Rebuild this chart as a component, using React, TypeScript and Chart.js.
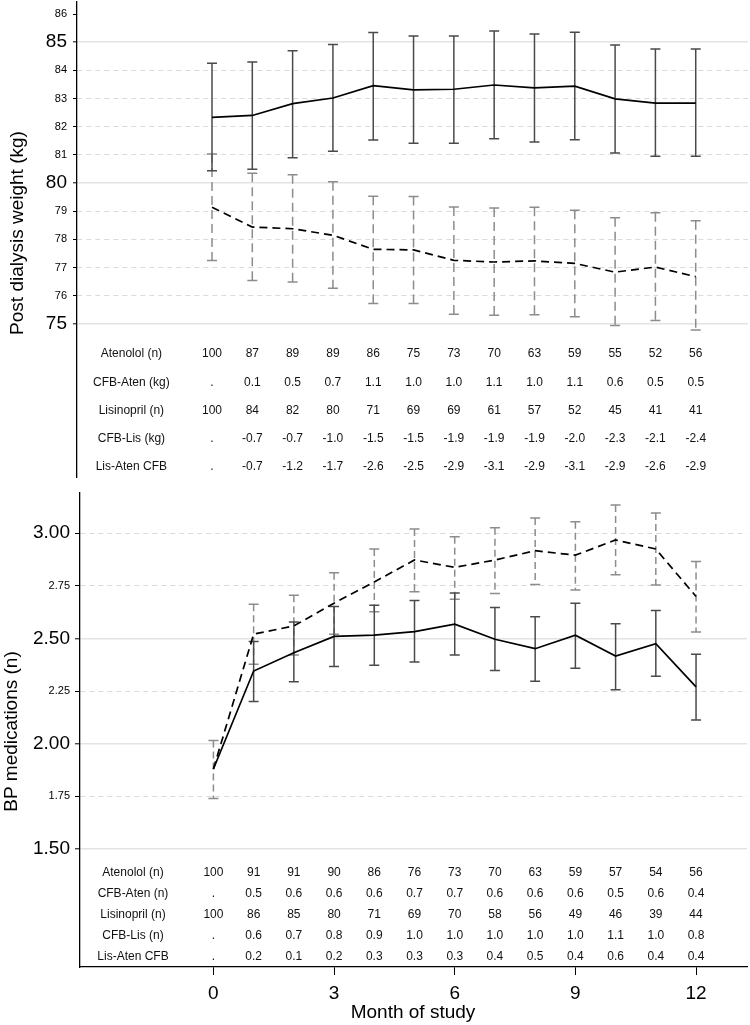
import React, { useEffect, useRef } from "react";
import { Chart, registerables } from "chart.js";

Chart.register(...registerables);

const FONT = "'Liberation Sans', Arial, Helvetica, sans-serif";

// ---------- data ----------
const months = [0, 1, 2, 3, 4, 5, 6, 7, 8, 9, 10, 11, 12];
const xTicks = [0, 3, 6, 9, 12];

// Top panel: post dialysis weight (kg)
const weightTicks = [86, 85, 84, 83, 82, 81, 80, 79, 78, 77, 76, 75];
const weightMajor = [85, 80, 75];
const weightNoGrid = [86];
const atenololWeight = [82.33, 82.4, 82.82, 83.02, 83.46, 83.31, 83.33, 83.48, 83.38, 83.44, 82.99, 82.84, 82.84];
const atenololWeightHi = [84.25, 84.3, 84.7, 84.92, 85.34, 85.22, 85.22, 85.4, 85.29, 85.35, 84.9, 84.76, 84.76];
const atenololWeightLo = [80.44, 80.49, 80.9, 81.13, 81.53, 81.41, 81.41, 81.57, 81.46, 81.54, 81.07, 80.95, 80.95];
const lisinoprilWeight = [79.14, 78.44, 78.38, 78.15, 77.65, 77.63, 77.26, 77.2, 77.24, 77.15, 76.84, 77.02, 76.68];
const lisinoprilWeightHi = [81.03, 80.35, 80.3, 80.05, 79.53, 79.52, 79.15, 79.12, 79.14, 79.04, 78.77, 78.95, 78.66];
const lisinoprilWeightLo = [77.25, 76.54, 76.49, 76.27, 75.73, 75.73, 75.35, 75.31, 75.33, 75.26, 74.95, 75.12, 74.79];

const weightTableLabels = ["Atenolol (n)", "CFB-Aten (kg)", "Lisinopril (n)", "CFB-Lis (kg)", "Lis-Aten CFB"];
const weightAtenN = ["100", "87", "89", "89", "86", "75", "73", "70", "63", "59", "55", "52", "56"];
const weightCfbAten = [".", "0.1", "0.5", "0.7", "1.1", "1.0", "1.0", "1.1", "1.0", "1.1", "0.6", "0.5", "0.5"];
const weightLisN = ["100", "84", "82", "80", "71", "69", "69", "61", "57", "52", "45", "41", "41"];
const weightCfbLis = [".", "-0.7", "-0.7", "-1.0", "-1.5", "-1.5", "-1.9", "-1.9", "-1.9", "-2.0", "-2.3", "-2.1", "-2.4"];
const weightLisAten = [".", "-0.7", "-1.2", "-1.7", "-2.6", "-2.5", "-2.9", "-3.1", "-2.9", "-3.1", "-2.9", "-2.6", "-2.9"];

// Bottom panel: BP medications (n)
const medsTicks = [3.0, 2.75, 2.5, 2.25, 2.0, 1.75, 1.5];
const medsMajor = [3.0, 2.5, 2.0, 1.5];
const medsSolidGrid = [2.5, 2.0, 1.5];
const atenololMeds = [1.88, 2.345, 2.432, 2.509, 2.515, 2.532, 2.567, 2.496, 2.451, 2.515, 2.416, 2.475, 2.27];
const atenololMedsHi = [null, 2.485, 2.578, 2.651, 2.657, 2.68, 2.715, 2.647, 2.602, 2.667, 2.569, 2.632, 2.424];
const atenololMedsLo = [null, 2.2, 2.294, 2.366, 2.372, 2.388, 2.421, 2.348, 2.297, 2.358, 2.256, 2.32, 2.112];
const lisinoprilMeds = [1.88, 2.52, 2.559, 2.667, 2.768, 2.872, 2.837, 2.872, 2.916, 2.895, 2.967, 2.924, 2.699];
const lisinoprilMedsHi = [2.015, 2.662, 2.705, 2.811, 2.924, 3.019, 2.982, 3.025, 3.071, 3.054, 3.133, 3.095, 2.865];
const lisinoprilMedsLo = [1.74, 2.377, 2.421, 2.52, 2.626, 2.721, 2.686, 2.713, 2.756, 2.73, 2.802, 2.753, 2.53];

const medsTableLabels = ["Atenolol (n)", "CFB-Aten (n)", "Lisinopril (n)", "CFB-Lis (n)", "Lis-Aten CFB"];
const medsAtenN = ["100", "91", "91", "90", "86", "76", "73", "70", "63", "59", "57", "54", "56"];
const medsCfbAten = [".", "0.5", "0.6", "0.6", "0.6", "0.7", "0.7", "0.6", "0.6", "0.6", "0.5", "0.6", "0.4"];
const medsLisN = ["100", "86", "85", "80", "71", "69", "70", "58", "56", "49", "46", "39", "44"];
const medsCfbLis = [".", "0.6", "0.7", "0.8", "0.9", "1.0", "1.0", "1.0", "1.0", "1.0", "1.1", "1.0", "0.8"];
const medsLisAten = [".", "0.2", "0.1", "0.2", "0.3", "0.3", "0.3", "0.4", "0.5", "0.4", "0.6", "0.4", "0.4"];

// ---------- layout constants ----------
const TOP_H = 480;
const BOT_H = 545;
const LABEL_COL = -2; // month coordinate of table row labels
const weightRowY = [74, 73, 72, 71, 70];
const medsRowY = [1.39, 1.29, 1.19, 1.09, 0.99];

const near = (a: number, list: number[]) => list.some((v) => Math.abs(v - a) < 1e-6);

const zeroPad = (s: any) => {
  s.paddingTop = 0;
  s.paddingBottom = 0;
  s.paddingLeft = 0;
  s.paddingRight = 0;
};

type ErrSeries = { hi: (number | null)[]; lo: (number | null)[]; color: string; dash: number[]; width: number };

function errorBarPlugin(id: string, series: ErrSeries[]) {
  return {
    id,
    beforeDatasetsDraw(chart: any) {
      const xs = chart.scales.x;
      const ys = chart.scales.y;
      const ctx = chart.ctx;
      series.forEach((s) => {
        ctx.save();
        ctx.strokeStyle = s.color;
        ctx.lineWidth = s.width;
        months.forEach((m, i) => {
          const hi = s.hi[i];
          const lo = s.lo[i];
          if (hi == null || lo == null) return;
          const px = xs.getPixelForValue(m);
          const p1 = ys.getPixelForValue(hi);
          const p2 = ys.getPixelForValue(lo);
          ctx.setLineDash(s.dash);
          ctx.beginPath();
          ctx.moveTo(px, p1);
          ctx.lineTo(px, p2);
          ctx.stroke();
          ctx.setLineDash([]);
          ctx.beginPath();
          ctx.moveTo(px - 5, p1);
          ctx.lineTo(px + 5, p1);
          ctx.moveTo(px - 5, p2);
          ctx.lineTo(px + 5, p2);
          ctx.stroke();
        });
        ctx.restore();
      });
    },
  };
}

function tablePlugin(id: string, labels: string[], rows: string[][], rowY: number[], nudge: number) {
  return {
    id,
    afterDraw(chart: any) {
      const xs = chart.scales.x;
      const ys = chart.scales.y;
      const ctx = chart.ctx;
      ctx.save();
      ctx.fillStyle = "#111";
      ctx.font = `12px ${FONT}`;
      ctx.textAlign = "center";
      ctx.textBaseline = "middle";
      rows.forEach((row, r) => {
        const py = ys.getPixelForValue(rowY[r]) + nudge;
        ctx.fillText(labels[r], xs.getPixelForValue(LABEL_COL), py);
        row.forEach((txt, i) => {
          ctx.fillText(txt, xs.getPixelForValue(months[i]), py);
        });
      });
      ctx.restore();
    },
  };
}

function textPlugin(id: string, items: { text: string; x: number; y: number; rotate: boolean; size: number }[]) {
  return {
    id,
    afterDraw(chart: any) {
      const ctx = chart.ctx;
      items.forEach((it) => {
        ctx.save();
        ctx.fillStyle = "#000";
        ctx.font = `${it.size}px ${FONT}`;
        ctx.textAlign = "center";
        ctx.textBaseline = "alphabetic";
        ctx.translate(it.x, it.y);
        if (it.rotate) ctx.rotate(-Math.PI / 2);
        ctx.fillText(it.text, 0, 0);
        ctx.restore();
      });
    },
  };
}

const lineDs = (ys: number[], dashed: boolean) => ({
  data: months.map((m, i) => ({ x: m, y: ys[i] })),
  borderColor: "#000",
  borderWidth: 1.7,
  borderDash: dashed ? [8, 5] : [],
  pointRadius: 0,
  tension: 0,
  fill: false,
});

export default function App() {
  const topRef = useRef<HTMLCanvasElement>(null);
  const botRef = useRef<HTMLCanvasElement>(null);

  useEffect(() => {
    const top = new Chart(topRef.current as HTMLCanvasElement, {
      type: "line",
      data: {
        datasets: [lineDs(atenololWeight, false), lineDs(lisinoprilWeight, true)] as any,
      },
      options: {
        responsive: false,
        animation: false,
        events: [],
        layout: { padding: { left: 0, right: 2, top: 2, bottom: 3 } },
        plugins: { legend: { display: false }, tooltip: { enabled: false } },
        scales: {
          x: { type: "linear", min: -3.349, max: 13.297, display: false },
          y: {
            type: "linear",
            min: 69.571,
            max: 86.426,
            afterFit: (s: any) => {
              s.width = 77;
              zeroPad(s);
            },
            afterBuildTicks: (s: any) => {
              s.ticks = weightTicks.map((v) => ({ value: v }));
            },
            ticks: {
              autoSkip: false,
              padding: 6,
              color: "#000",
              font: (c: any) => ({ family: FONT, size: c.tick && near(c.tick.value, weightMajor) ? 19 : 11 }),
              callback: (v: any) => String(v),
            },
            grid: {
              color: (c: any) => {
                const v = c.tick ? c.tick.value : 0;
                if (near(v, weightNoGrid)) return "rgba(0,0,0,0)";
                return near(v, weightMajor) ? "#e3e3e3" : "#dadada";
              },
              lineWidth: (c: any) => (c.tick && near(c.tick.value, weightMajor) ? 1.6 : 1),
              tickLength: 4,
              tickColor: "#000",
              tickWidth: 1,
            },
            border: {
              display: true,
              color: "#000",
              width: 1.3,
              dash: (c: any) => (c.tick && !near(c.tick.value, weightMajor) ? [5, 4] : []),
            },
          },
        },
      } as any,
      plugins: [
        errorBarPlugin("errTop", [
          { hi: lisinoprilWeightHi, lo: lisinoprilWeightLo, color: "#8c8c8c", dash: [9, 5], width: 1.5 },
          { hi: atenololWeightHi, lo: atenololWeightLo, color: "#4a4a4a", dash: [], width: 1.5 },
        ]),
        tablePlugin("tblTop", weightTableLabels, [weightAtenN, weightCfbAten, weightLisN, weightCfbLis, weightLisAten], weightRowY, 2),
        textPlugin("txtTop", [{ text: "Post dialysis weight (kg)", x: 22.5, y: 233, rotate: true, size: 19 }]),
      ],
    });

    const bot = new Chart(botRef.current as HTMLCanvasElement, {
      type: "line",
      data: {
        datasets: [lineDs(atenololMeds, false), lineDs(lisinoprilMeds, true)] as any,
      },
      options: {
        responsive: false,
        animation: false,
        events: [],
        layout: { padding: { left: 0, right: 3, top: 13, bottom: 0 } },
        plugins: { legend: { display: false }, tooltip: { enabled: false } },
        scales: {
          x: {
            type: "linear",
            min: -3.317,
            max: 13.267,
            afterFit: (s: any) => {
              s.height = 58;
              zeroPad(s);
            },
            afterBuildTicks: (s: any) => {
              s.ticks = xTicks.map((v) => ({ value: v }));
            },
            ticks: { autoSkip: false, padding: 7, color: "#000", font: { family: FONT, size: 19 }, maxRotation: 0 },
            grid: { drawOnChartArea: false, tickLength: 8, tickColor: "#000", tickWidth: 1 },
            border: { display: true, color: "#000", width: 1.3 },
          },
          y: {
            type: "linear",
            min: 0.94,
            max: 3.19,
            afterFit: (s: any) => {
              s.width = 80;
              zeroPad(s);
            },
            afterBuildTicks: (s: any) => {
              s.ticks = medsTicks.map((v) => ({ value: v }));
            },
            ticks: {
              autoSkip: false,
              padding: 5,
              color: "#000",
              font: (c: any) => ({ family: FONT, size: c.tick && near(c.tick.value, medsMajor) ? 19 : 11 }),
              callback: (v: any) => Number(v).toFixed(2),
            },
            grid: {
              color: (c: any) => (c.tick && near(c.tick.value, medsSolidGrid) ? "#e3e3e3" : "#dadada"),
              lineWidth: (c: any) => (c.tick && near(c.tick.value, medsSolidGrid) ? 1.6 : 1),
              tickLength: 5,
              tickColor: "#000",
              tickWidth: 1,
            },
            border: {
              display: true,
              color: "#000",
              width: 1.3,
              dash: (c: any) => (c.tick && !near(c.tick.value, medsSolidGrid) ? [5, 4] : []),
            },
          },
        },
      } as any,
      plugins: [
        errorBarPlugin("errBot", [
          { hi: lisinoprilMedsHi, lo: lisinoprilMedsLo, color: "#8c8c8c", dash: [7, 4], width: 1.5 },
          { hi: atenololMedsHi, lo: atenololMedsLo, color: "#4a4a4a", dash: [], width: 1.5 },
        ]),
        tablePlugin("tblBot", medsTableLabels, [medsAtenN, medsCfbAten, medsLisN, medsCfbLis, medsLisAten], medsRowY, 0),
        textPlugin("txtBot", [
          { text: "BP medications (n)", x: 17, y: 731.5 - TOP_H, rotate: true, size: 19 },
          { text: "Month of study", x: 413, y: 1018 - TOP_H, rotate: false, size: 19 },
        ]),
      ],
    });

    return () => {
      top.destroy();
      bot.destroy();
    };
  }, []);

  return (
    <div style={{ position: "absolute", left: 0, top: 0, width: 750, height: 1025, background: "#fff" }}>
      <canvas ref={topRef} width={750} height={TOP_H} style={{ position: "absolute", left: 0, top: 0, width: 750, height: TOP_H }} />
      <canvas ref={botRef} width={750} height={BOT_H} style={{ position: "absolute", left: 0, top: TOP_H, width: 750, height: BOT_H }} />
    </div>
  );
}
